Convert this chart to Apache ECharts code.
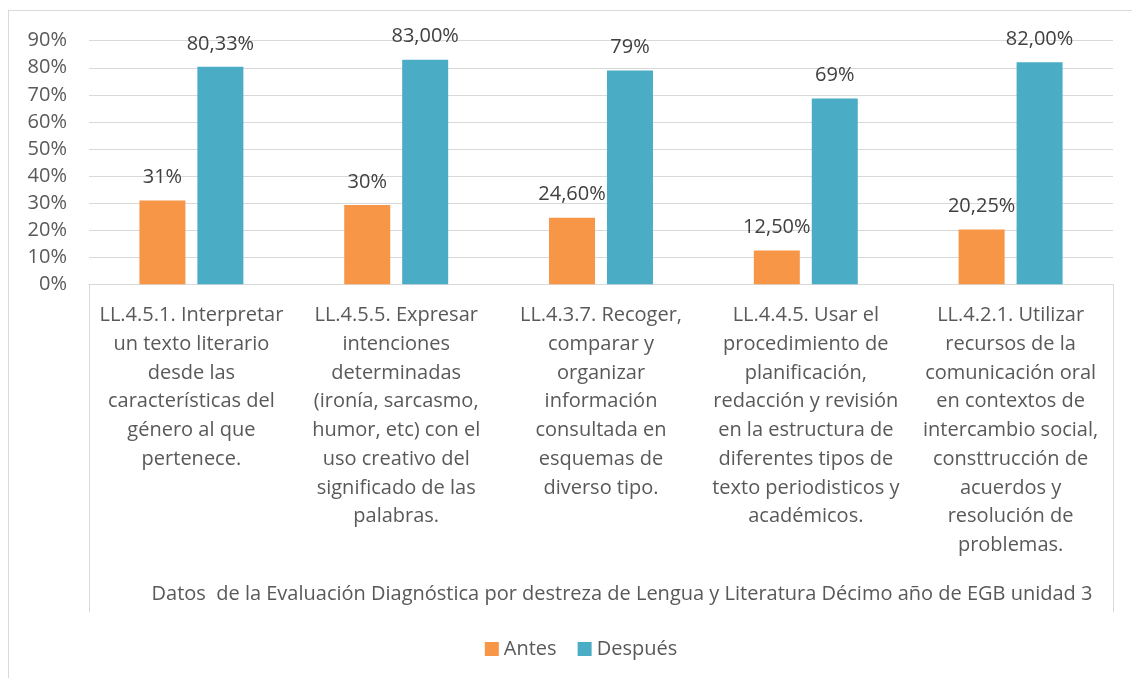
<!DOCTYPE html>
<html>
<head>
<meta charset="utf-8">
<script src="https://cdn.jsdelivr.net/npm/echarts@6/dist/echarts.min.js"></script>
<style>
  html, body { margin: 0; padding: 0; background: #fff; overflow: hidden; }
  #chart { position: absolute; left: 8px; top: 10px; width: 1144px; height: 700px; border: 1px solid #d9d9d9; }
</style>
</head>
<body>
<div id="chart"></div>
<script>
const categories = [
  'LL.4.5.1. Interpretar\nun texto literario\ndesde las\ncaracterísticas del\ngénero al que\npertenece.',
  'LL.4.5.5. Expresar\nintenciones\ndeterminadas\n(ironía, sarcasmo,\nhumor, etc) con el\nuso creativo del\nsignificado de las\npalabras.',
  'LL.4.3.7. Recoger,\ncomparar y\norganizar\ninformación\nconsultada en\nesquemas de\ndiverso tipo.',
  'LL.4.4.5. Usar el\nprocedimiento de\nplanificación,\nredacción y revisión\nen la estructura de\ndiferentes tipos de\ntexto periodisticos y\nacadémicos.',
  'LL.4.2.1. Utilizar\nrecursos de la\ncomunicación oral\nen contextos de\nintercambio social,\nconsttrucción de\nacuerdos y\nresolución de\nproblemas.'
]
const groupLabel = ['Datos  de la Evaluación Diagnóstica por destreza de Lengua y Literatura Décimo año de EGB unidad 3']
const antes = [31, 29.3, 24.6, 12.5, 20.25]
const antesLabels = ['31%', '30%', '24,60%', '12,50%', '20,25%']
const despues = [80.33, 83, 79, 68.6, 82]
const despuesLabels = ['80,33%', '83,00%', '79%', '69%', '82,00%']
const yTicks = [0, 10, 20, 30, 40, 50, 60, 70, 80, 90]

const font = 'Open Sans'
const fontSize = 20
const textColor = '#595959'
const gridRect = { left: 80, top: 29.7, width: 1024, height: 243.6 }

const chart = echarts.init(document.getElementById('chart'))
chart.setOption({
  backgroundColor: '#fff',
  animation: false,
  color: ['#f79646', '#4bacc6'],
  textStyle: { fontFamily: font },
  grid: [
    { ...gridRect },
    { ...gridRect }
  ],
  legend: {
    left: 'center',
    top: 623,
    icon: 'rect',
    itemWidth: 14,
    itemHeight: 14,
    itemGap: 21,
    textStyle: { color: textColor, fontSize: fontSize, fontFamily: font }
  },
  xAxis: [
    {
      type: 'category',
      gridIndex: 0,
      data: categories,
      axisLine: { lineStyle: { color: '#d9d9d9', width: 1 } },
      axisTick: { show: false },
      axisLabel: {
        interval: 0,
        margin: 17,
        color: textColor,
        fontSize: fontSize,
        lineHeight: 28.7,
        align: 'center',
        fontFamily: font
      }
    },
    {
      type: 'category',
      gridIndex: 1,
      position: 'bottom',
      data: groupLabel,
      axisLine: { show: false },
      axisTick: { show: true, length: 328, lineStyle: { color: '#d9d9d9', width: 1 } },
      axisLabel: {
        margin: 300,
        color: textColor,
        fontSize: fontSize,
        fontFamily: font,
        padding: [0, 0, 0, 42]
      }
    }
  ],
  yAxis: [
    {
      type: 'value',
      gridIndex: 0,
      min: yTicks[0],
      max: yTicks[yTicks.length - 1],
      interval: 10,
      axisLine: { show: false },
      axisTick: { show: false },
      axisLabel: { formatter: '{value}%', color: textColor, fontSize: fontSize, margin: 22, fontFamily: font },
      splitLine: { lineStyle: { color: '#d9d9d9', width: 1 } }
    },
    {
      type: 'value',
      gridIndex: 1,
      min: 0,
      max: 90,
      show: false
    }
  ],
  series: [
    {
      name: 'Antes',
      type: 'bar',
      xAxisIndex: 0,
      yAxisIndex: 0,
      data: antes,
      barWidth: 46,
      barGap: '26%',
      label: {
        show: true,
        position: 'top',
        distance: 13,
        color: '#404040',
        fontSize: fontSize,
        fontFamily: font,
        formatter: (p) => antesLabels[p.dataIndex]
      }
    },
    {
      name: 'Después',
      type: 'bar',
      xAxisIndex: 0,
      yAxisIndex: 0,
      data: despues,
      barWidth: 46,
      barGap: '26%',
      label: {
        show: true,
        position: 'top',
        distance: 13,
        color: '#404040',
        fontSize: fontSize,
        fontFamily: font,
        formatter: (p) => despuesLabels[p.dataIndex]
      }
    }
  ]
})
</script>
</body>
</html>
